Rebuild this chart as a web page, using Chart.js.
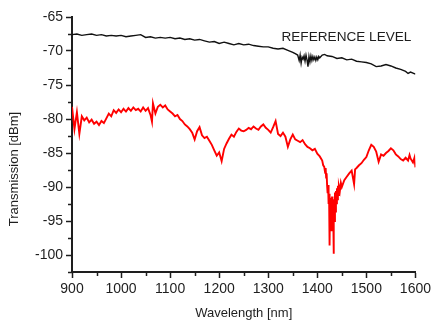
<!DOCTYPE html>
<html lang="en">
<head>
<meta charset="UTF-8">
<title>Transmission spectrum</title>
<script src="https://cdn.jsdelivr.net/npm/chart.js"></script>
<style>
  html, body { margin: 0; padding: 0; background: #fff; }
</style>
</head>
<body>
<canvas id="spectrumChart" width="434" height="321"></canvas>
<script>
// sample (red) trace
var sampleWavelength = [
  900, 905, 910, 915, 920, 925, 930, 935, 940, 945,
  950, 955, 960, 965, 970, 975, 980, 985, 990, 995,
  1000, 1005, 1010, 1015, 1020, 1025, 1030, 1035, 1040, 1045,
  1050, 1055, 1060, 1063, 1065, 1070, 1075, 1080, 1085, 1090,
  1095, 1100, 1105, 1110, 1115, 1120, 1125, 1130, 1135, 1140,
  1145, 1150, 1155, 1160, 1165, 1170, 1175, 1180, 1185, 1190,
  1195, 1200, 1205, 1210, 1215, 1220, 1225, 1230, 1235, 1240,
  1245, 1250, 1255, 1260, 1265, 1270, 1275, 1280, 1285, 1290,
  1295, 1300, 1305, 1310, 1315, 1320, 1325, 1330, 1335, 1340,
  1345, 1350, 1355, 1360, 1365, 1370, 1375, 1380, 1385, 1390,
  1395, 1400, 1405, 1410, 1412, 1414, 1416, 1417, 1418, 1419,
  1420, 1421, 1422, 1423, 1424, 1425, 1426, 1427, 1428, 1429,
  1430, 1431, 1432, 1433, 1434, 1435, 1436, 1437, 1438, 1439,
  1440, 1441, 1442, 1443, 1444, 1446, 1448, 1450, 1455, 1460,
  1465, 1470, 1475, 1477, 1480, 1485, 1490, 1495, 1500, 1505,
  1510, 1515, 1520, 1525, 1530, 1535, 1540, 1545, 1550, 1555,
  1560, 1565, 1570, 1575, 1580, 1585, 1588, 1590, 1595, 1598,
  1600
];
var sampleLevel = [
  -78.2, -81.5, -79.0, -82.2, -79.6, -80.2, -79.8, -80.5, -80.1, -80.7,
  -80.4, -80.9, -80.3, -80.6, -79.9, -79.2, -79.6, -78.7, -79.1, -78.6,
  -79.0, -78.5, -78.9, -78.4, -78.8, -78.3, -78.7, -78.5, -78.9, -78.3,
  -78.8, -78.4, -79.4, -80.4, -77.7, -79.2, -78.2, -77.9, -78.3, -78.0,
  -78.6, -78.9, -79.2, -79.6, -79.4, -80.0, -80.3, -80.8, -81.1, -81.5,
  -82.0, -83.0, -81.8, -81.2, -82.4, -82.8, -82.6, -83.2, -83.8, -84.6,
  -85.4, -84.9, -86.2, -84.4, -83.6, -82.9, -82.3, -82.6, -81.9, -81.4,
  -81.7, -81.8, -81.6, -81.3, -81.5, -81.1, -81.4, -81.6, -81.1, -80.8,
  -81.3, -81.6, -82.0, -81.2, -80.3, -82.2, -82.5, -82.0, -82.6, -84.1,
  -83.0, -82.3, -83.0, -83.2, -83.4, -83.1, -83.7, -84.1, -84.3, -84.6,
  -84.4, -85.1, -85.5, -86.1, -86.8, -87.0, -87.9, -87.2, -88.6, -88.0,
  -89.8, -90.9, -89.7, -92.5, -91.0, -98.6, -91.6, -95.4, -92.2, -96.5,
  -91.4, -94.2, -91.8, -99.8, -92.0, -95.0, -90.8, -93.6, -90.6, -92.4,
  -90.2, -91.8, -89.8, -91.2, -89.9, -90.6, -89.4, -90.0, -89.0, -88.5,
  -88.0, -87.6, -89.6, -87.4, -87.2, -86.8, -86.5, -86.0, -85.6, -84.6,
  -83.8, -84.1, -84.8, -86.3, -85.2, -85.4, -85.0, -84.7, -84.3, -84.6,
  -85.2, -85.5, -85.9, -86.1, -85.7, -86.1, -85.3, -85.8, -86.4, -85.7,
  -87.1
];

// reference level (black) trace
var refWavelength = [
  900, 910, 920, 930, 940, 950, 960, 970, 980, 990,
  1000, 1010, 1020, 1030, 1040, 1050, 1060, 1070, 1080, 1090,
  1100, 1110, 1120, 1130, 1140, 1150, 1160, 1170, 1180, 1190,
  1200, 1210, 1220, 1230, 1240, 1250, 1260, 1270, 1280, 1290,
  1300, 1310, 1320, 1330, 1340, 1350, 1355, 1360, 1363, 1365,
  1367, 1369, 1371, 1373, 1375, 1377, 1379, 1381, 1383, 1385,
  1387, 1389, 1391, 1393, 1395, 1397, 1399, 1401, 1403, 1405,
  1410, 1415, 1420, 1430, 1440, 1450, 1460, 1470, 1480, 1490,
  1500, 1510, 1520, 1530, 1540, 1550, 1560, 1570, 1580, 1585,
  1590, 1600
];
var refLevel = [
  -67.6, -67.5, -67.7, -67.6, -67.5, -67.7, -67.6, -67.8, -67.7, -67.8,
  -67.7, -67.9, -67.8, -67.7, -67.6, -68.0, -67.9, -68.1, -68.0, -68.1,
  -68.0, -68.2, -68.1, -68.3, -68.2, -68.4, -68.3, -68.5, -68.7, -68.6,
  -68.9, -68.7, -68.9, -69.1, -68.9, -69.1, -69.0, -69.2, -69.3, -69.4,
  -69.4, -69.6, -69.7, -69.6, -69.9, -70.2, -70.4, -70.6, -71.4, -70.6,
  -71.8, -70.9, -71.2, -70.7, -71.5, -70.6, -71.3, -72.3, -70.8, -71.6,
  -70.7, -71.4, -70.8, -71.3, -70.9, -71.4, -70.9, -71.3, -70.8, -71.0,
  -70.6, -70.5, -70.7, -70.8, -71.1, -71.0, -71.3, -71.2, -71.5, -71.6,
  -71.7, -71.9, -72.3, -72.2, -72.0, -72.2, -72.5, -72.7, -73.0, -73.3,
  -73.1, -73.4
];

// axis ticks and texts
var xTicks = [900, 1000, 1100, 1200, 1300, 1400, 1500, 1600];
var xMinorTicks = [950, 1050, 1150, 1250, 1350, 1450, 1550];
var yTicks = [-100, -95, -90, -85, -80, -75, -70, -65];
var yMinorTicks = [-102.5, -97.5, -92.5, -87.5, -82.5, -77.5, -72.5, -67.5];
var xTitle = 'Wavelength [nm]';
var yTitle = 'Transmission [dBm]';
var refLabel = 'REFERENCE LEVEL';

var axisColor = '#1e1e1e';
var fontFamily = '"Liberation Sans", Arial, sans-serif';

function toPoints(xs, ys) {
    return xs.map(function (x, i) { return { x: x, y: ys[i] }; });
}

// minor ticks, rotated y title and the in-plot label
var extrasPlugin = {
    id: 'extras',
    afterDraw: function (chart) {
        var ctx = chart.ctx;
        var xs = chart.scales.x;
        var ys = chart.scales.y;
        var area = chart.chartArea;
        ctx.save();
        ctx.strokeStyle = axisColor;
        ctx.lineWidth = 1.5;
        xMinorTicks.forEach(function (v) {
            var px = Math.round(xs.getPixelForValue(v)) + 0.5;
            ctx.beginPath();
            ctx.moveTo(px, area.bottom);
            ctx.lineTo(px, area.bottom + 4);
            ctx.stroke();
        });
        yMinorTicks.forEach(function (v) {
            var py = Math.round(ys.getPixelForValue(v)) + 0.5;
            ctx.beginPath();
            ctx.moveTo(area.left, py);
            ctx.lineTo(area.left - 4, py);
            ctx.stroke();
        });

        ctx.fillStyle = axisColor;
        ctx.font = '13.6px ' + fontFamily;
        ctx.textAlign = 'left';
        ctx.textBaseline = 'middle';
        ctx.fillText(refLabel, xs.getPixelForValue(1327), ys.getPixelForValue(-68.0));

        ctx.font = '13px ' + fontFamily;
        ctx.translate(14, 169);
        ctx.rotate(-Math.PI / 2);
        ctx.textAlign = 'center';
        ctx.fillText(yTitle, 0, 0);
        ctx.restore();
    }
};

var ctx = document.getElementById('spectrumChart').getContext('2d');
var myChart = new Chart(ctx, {
    type: 'line',
    data: {
        datasets: [{
            label: 'Reference level',
            data: toPoints(refWavelength, refLevel),
            borderColor: '#111111',
            borderWidth: 1.4,
            pointRadius: 0,
            tension: 0,
            fill: false
        }, {
            label: 'Transmission',
            data: toPoints(sampleWavelength, sampleLevel),
            borderColor: '#ff0000',
            borderWidth: 1.9,
            pointRadius: 0,
            tension: 0,
            fill: false
        }]
    },
    options: {
        responsive: false,
        animation: false,
        layout: { padding: { left: 0, top: 17, right: 17, bottom: 0 } },
        plugins: {
            legend: { display: false },
            tooltip: { enabled: false }
        },
        scales: {
            x: {
                type: 'linear',
                min: 900,
                max: 1600,
                afterFit: function (scale) { scale.height = 49; },
                afterBuildTicks: function (scale) {
                    scale.ticks = xTicks.map(function (v) { return { value: v }; });
                },
                grid: { drawOnChartArea: false, drawTicks: true, tickLength: 6, tickWidth: 1.5, tickColor: axisColor },
                border: { display: true, width: 2, color: axisColor },
                ticks: {
                    color: axisColor,
                    padding: 3,
                    maxRotation: 0,
                    font: { family: fontFamily, size: 14 },
                    callback: function (value) { return String(value); }
                },
                title: {
                    display: true,
                    text: xTitle,
                    color: axisColor,
                    padding: { top: 0, bottom: 0 },
                    font: { family: fontFamily, size: 13 }
                }
            },
            y: {
                type: 'linear',
                min: -102.5,
                max: -65,
                afterFit: function (scale) { scale.width = 72; },
                afterBuildTicks: function (scale) {
                    scale.ticks = yTicks.map(function (v) { return { value: v }; });
                },
                grid: { drawOnChartArea: false, drawTicks: true, tickLength: 6, tickWidth: 1.5, tickColor: axisColor },
                border: { display: true, width: 2, color: axisColor },
                ticks: {
                    color: axisColor,
                    padding: 3,
                    font: { family: fontFamily, size: 14 },
                    callback: function (value) { return String(value); }
                }
            }
        }
    },
    plugins: [extrasPlugin]
});
</script>
</body>
</html>
